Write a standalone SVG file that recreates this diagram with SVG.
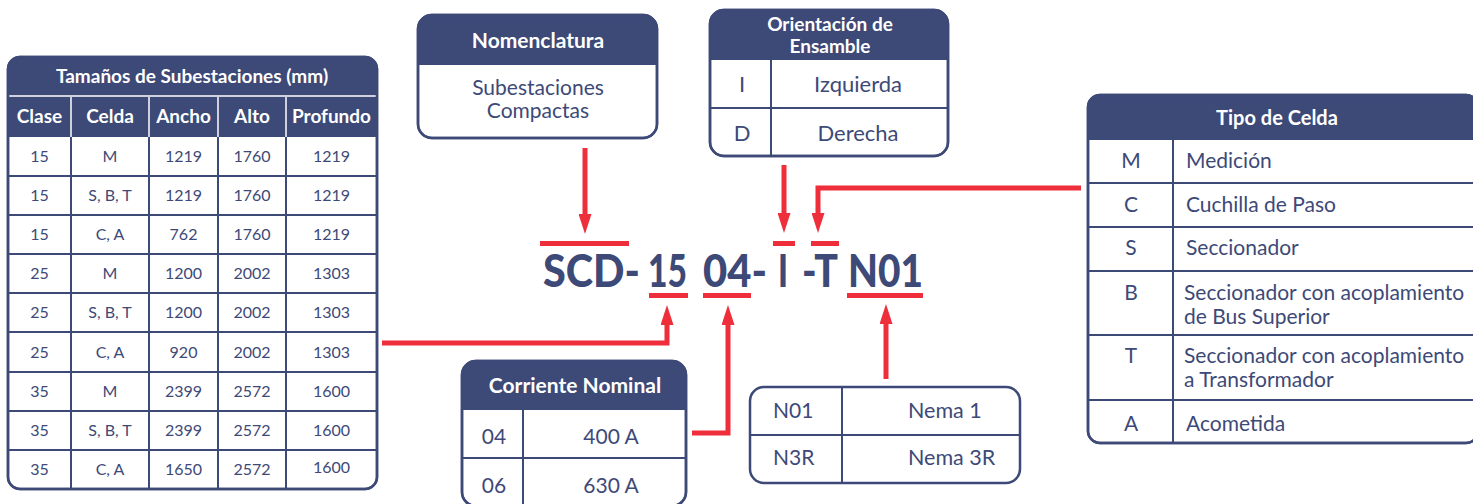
<svg xmlns="http://www.w3.org/2000/svg" width="1473" height="504" viewBox="0 0 1473 504">
<defs>
<style>
.box{fill:#fff;stroke:#3d4977;stroke-width:2.5}
.hdr{fill:#3d4977}
.grid{stroke:#3d4977;stroke-width:2;fill:none}
.wl{stroke:#fff;stroke-width:1.5}
.ht{font-family:Lato,"Open Sans",sans-serif;font-weight:bold;fill:#fff;text-anchor:middle}
.t{font-family:Lato,"Open Sans",sans-serif;fill:#3d4977}
.c{text-anchor:middle}
.d{font-size:16px}
.red{fill:#ee2e3a}
.conn{fill:none;stroke:#ee2e3a;stroke-width:5}
.code{font-family:Lato,"Open Sans",sans-serif;font-weight:900;font-size:45px;fill:#3d4977}
</style>
<marker id="ah" viewBox="0 0 20 13" refX="0" refY="6.5" markerWidth="20" markerHeight="13" markerUnits="userSpaceOnUse" orient="auto">
<path d="M0,0 L20,6.5 L0,13 Z" fill="#ee2e3a"/>
</marker>
</defs>
<rect width="1473" height="504" fill="#fff"/>

<g id="tabla-tamanos">
<rect class="box" x="8" y="57" width="369" height="432" rx="12"/>
<path class="hdr" d="M8,137 V69 Q8,57 20,57 H365 Q377,57 377,69 V137 Z"/>
<line class="wl" x1="8" y1="96" x2="377" y2="96"/>
<g class="wl">
<line x1="71" y1="97" x2="71" y2="137"/><line x1="149" y1="97" x2="149" y2="137"/><line x1="218" y1="97" x2="218" y2="137"/><line x1="286" y1="97" x2="286" y2="137"/>
</g>
<g class="grid">
<line x1="71" y1="137" x2="71" y2="489"/><line x1="149" y1="137" x2="149" y2="489"/><line x1="218" y1="137" x2="218" y2="489"/><line x1="286" y1="137" x2="286" y2="489"/>
<line x1="8" y1="176" x2="377" y2="176"/><line x1="8" y1="215" x2="377" y2="215"/><line x1="8" y1="254" x2="377" y2="254"/><line x1="8" y1="293" x2="377" y2="293"/><line x1="8" y1="332" x2="377" y2="332"/><line x1="8" y1="372" x2="377" y2="372"/><line x1="8" y1="411" x2="377" y2="411"/><line x1="8" y1="450" x2="377" y2="450"/>
</g>
<rect class="box" x="8" y="57" width="369" height="432" rx="12" style="fill:none"/>
<text class="ht" x="192" y="83" font-size="19">Tamaños de Subestaciones (mm)</text>
<g class="ht" font-size="19">
<text x="39.5" y="123">Clase</text><text x="110" y="123">Celda</text><text x="183.5" y="123">Ancho</text><text x="252" y="123">Alto</text><text x="331.5" y="123">Profundo</text>
</g>
<g class="t c d">
<text x="39.5" y="162">15</text><text x="110" y="162">M</text><text x="183.5" y="162">1219</text><text x="252" y="162">1760</text><text x="331.5" y="162">1219</text>
<text x="39.5" y="201">15</text><text x="110" y="201">S, B, T</text><text x="183.5" y="201">1219</text><text x="252" y="201">1760</text><text x="331.5" y="201">1219</text>
<text x="39.5" y="240">15</text><text x="110" y="240">C, A</text><text x="183.5" y="240">762</text><text x="252" y="240">1760</text><text x="331.5" y="240">1219</text>
<text x="39.5" y="279">25</text><text x="110" y="279">M</text><text x="183.5" y="279">1200</text><text x="252" y="279">2002</text><text x="331.5" y="279">1303</text>
<text x="39.5" y="318">25</text><text x="110" y="318">S, B, T</text><text x="183.5" y="318">1200</text><text x="252" y="318">2002</text><text x="331.5" y="318">1303</text>
<text x="39.5" y="358">25</text><text x="110" y="358">C, A</text><text x="183.5" y="358">920</text><text x="252" y="358">2002</text><text x="331.5" y="358">1303</text>
<text x="39.5" y="397">35</text><text x="110" y="397">M</text><text x="183.5" y="397">2399</text><text x="252" y="397">2572</text><text x="331.5" y="397">1600</text>
<text x="39.5" y="436">35</text><text x="110" y="436">S, B, T</text><text x="183.5" y="436">2399</text><text x="252" y="436">2572</text><text x="331.5" y="436">1600</text>
<text x="39.5" y="475">35</text><text x="110" y="475">C, A</text><text x="183.5" y="475">1650</text><text x="252" y="475">2572</text><text x="331.5" y="473">1600</text>
</g>
</g>

<g id="nomenclatura">
<rect class="box" x="418" y="15" width="239" height="123" rx="14"/>
<path class="hdr" d="M418,65 V29 Q418,15 432,15 H643 Q657,15 657,29 V65 Z"/>
<rect class="box" x="418" y="15" width="239" height="123" rx="14" style="fill:none"/>
<text class="ht" x="538" y="48" font-size="21">Nomenclatura</text>
<text class="t c" x="538" y="95" font-size="21">Subestaciones</text>
<text class="t c" x="538" y="118" font-size="21">Compactas</text>
</g>

<g id="orientacion">
<rect class="box" x="710" y="10" width="238" height="146" rx="14"/>
<path class="hdr" d="M710,60 V24 Q710,10 724,10 H934 Q948,10 948,24 V60 Z"/>
<line class="grid" x1="710" y1="108" x2="948" y2="108"/>
<line class="grid" x1="771" y1="60" x2="771" y2="156"/>
<rect class="box" x="710" y="10" width="238" height="146" rx="14" style="fill:none"/>
<text class="ht" x="830" y="31" font-size="19">Orientación de</text>
<text class="ht" x="830" y="53" font-size="19">Ensamble</text>
<text class="t c" x="742" y="92" font-size="22">I</text>
<text class="t c" x="858" y="92" font-size="22">Izquierda</text>
<text class="t c" x="742" y="141" font-size="22">D</text>
<text class="t c" x="858" y="141" font-size="22">Derecha</text>
</g>

<g id="tipo-celda">
<rect class="box" x="1088" y="95" width="390" height="348" rx="12"/>
<path class="hdr" d="M1088,140 V107 Q1088,95 1100,95 H1466 Q1478,95 1478,107 V140 Z"/>
<g class="grid">
<line x1="1088" y1="183" x2="1478" y2="183"/><line x1="1088" y1="227" x2="1478" y2="227"/><line x1="1088" y1="271" x2="1478" y2="271"/><line x1="1088" y1="335" x2="1478" y2="335"/><line x1="1088" y1="400" x2="1478" y2="400"/>
<line x1="1173" y1="140" x2="1173" y2="443"/>
</g>
<rect class="box" x="1088" y="95" width="390" height="348" rx="12" style="fill:none"/>
<text class="ht" x="1277" y="125" font-size="20">Tipo de Celda</text>
<g class="t" font-size="21">
<text class="c" x="1131" y="168">M</text><text x="1186" y="168">Medición</text>
<text class="c" x="1131" y="212">C</text><text x="1186" y="212">Cuchilla de Paso</text>
<text class="c" x="1131" y="255">S</text><text x="1186" y="255">Seccionador</text>
<text class="c" x="1131" y="300">B</text><text x="1184" y="300">Seccionador con acoplamiento</text><text x="1184" y="324">de Bus Superior</text>
<text class="c" x="1131" y="363">T</text><text x="1184" y="363">Seccionador con acoplamiento</text><text x="1184" y="387">a Transformador</text>
<text class="c" x="1131" y="431">A</text><text x="1186" y="431">Acometida</text>
</g>
</g>

<g id="corriente">
<rect class="box" x="462" y="361" width="224" height="145" rx="14"/>
<path class="hdr" d="M462,410 V375 Q462,361 476,361 H672 Q686,361 686,375 V410 Z"/>
<line class="grid" x1="462" y1="458" x2="686" y2="458"/>
<line class="grid" x1="523" y1="410" x2="523" y2="506"/>
<rect class="box" x="462" y="361" width="224" height="145" rx="14" style="fill:none"/>
<text class="ht" x="575" y="393" font-size="21">Corriente Nominal</text>
<text class="t c" x="494" y="444" font-size="21">04</text>
<text class="t c" x="611" y="444" font-size="21">400 A</text>
<text class="t c" x="494" y="493" font-size="21">06</text>
<text class="t c" x="611" y="493" font-size="21">630 A</text>
</g>

<g id="nema">
<rect class="box" x="750" y="387" width="270" height="96" rx="14"/>
<line class="grid" x1="750" y1="435" x2="1020" y2="435"/>
<line class="grid" x1="842" y1="387" x2="842" y2="483"/>
<text class="t" x="773" y="418" font-size="21">N01</text>
<text class="t" x="908" y="418" font-size="21.5">Nema 1</text>
<text class="t" x="773" y="465" font-size="21">N3R</text>
<text class="t" x="908" y="465" font-size="21.5">Nema 3R</text>
</g>

<g id="codigo">
<text class="code" x="543" y="287" textLength="97" lengthAdjust="spacingAndGlyphs">SCD-</text>
<text class="code" x="648" y="287" textLength="39" lengthAdjust="spacingAndGlyphs">15</text>
<text class="code" x="703" y="287" textLength="64" lengthAdjust="spacingAndGlyphs">04-</text>
<text class="code" x="778" y="287" textLength="10" lengthAdjust="spacingAndGlyphs">I</text>
<text class="code" x="802" y="287" textLength="36" lengthAdjust="spacingAndGlyphs">-T</text>
<text class="code" x="848" y="287" textLength="75" lengthAdjust="spacingAndGlyphs">N01</text>
<rect class="red" x="540" y="241" width="89" height="5"/>
<rect class="red" x="773" y="241" width="22" height="5"/>
<rect class="red" x="811" y="241" width="28" height="5"/>
<rect class="red" x="649" y="293" width="39" height="5"/>
<rect class="red" x="703" y="293" width="48" height="5"/>
<rect class="red" x="847" y="293" width="76" height="5"/>
</g>

<g id="conectores">
<path class="conn" d="M585,148 V214" marker-end="url(#ah)"/>
<path class="conn" d="M784,165 V213" marker-end="url(#ah)"/>
<path class="conn" d="M1081,188 H818 V213" marker-end="url(#ah)"/>
<path class="conn" d="M382,343 H667 V325" marker-end="url(#ah)"/>
<path class="conn" d="M692,433 H728 V325" marker-end="url(#ah)"/>
<path class="conn" d="M886,379 V324" marker-end="url(#ah)"/>
</g>
</svg>
